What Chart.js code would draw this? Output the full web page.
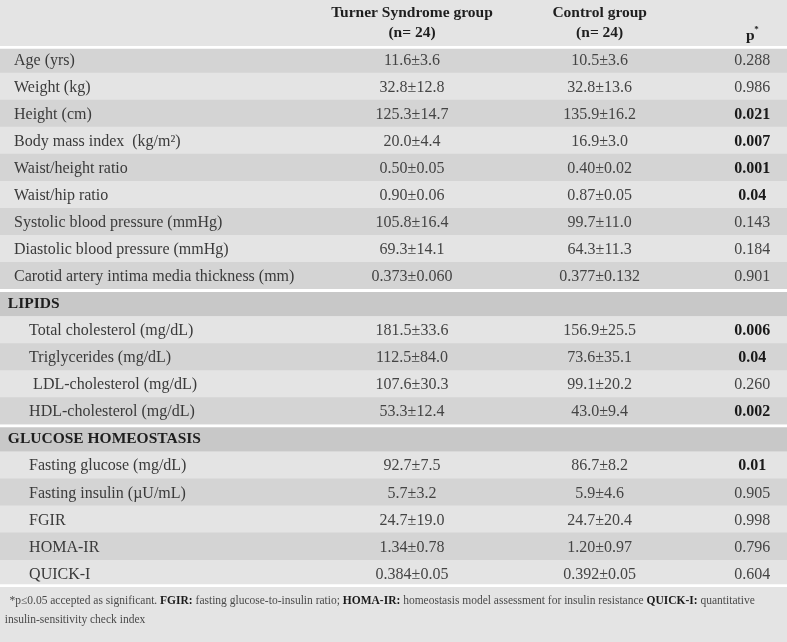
<!DOCTYPE html>
<html>
<head>
<meta charset="utf-8">
<script src="https://cdn.jsdelivr.net/npm/chart.js@4.4.1/dist/chart.umd.min.js"></script>
<style>
  html, body { margin: 0; padding: 0; background: #e5e5e5; }
  #wrap { width: 787px; height: 642px; position: relative; }
</style>
</head>
<body>
<div id="wrap"><canvas id="c" width="787" height="642"></canvas></div>
<script>
// ---------------- DATA ----------------
const rowLabels = [
  'Age (yrs)', 'Weight (kg)', 'Height (cm)', 'Body mass index  (kg/m²)',
  'Waist/height ratio', 'Waist/hip ratio', 'Systolic blood pressure (mmHg)',
  'Diastolic blood pressure (mmHg)', 'Carotid artery intima media thickness (mm)',
  'LIPIDS',
  'Total cholesterol (mg/dL)', 'Triglycerides (mg/dL)', ' LDL-cholesterol (mg/dL)', 'HDL-cholesterol (mg/dL)',
  'GLUCOSE HOMEOSTASIS',
  'Fasting glucose (mg/dL)', 'Fasting insulin (µU/mL)', 'FGIR', 'HOMA-IR', 'QUICK-I'
];
const rowKinds = [
  'row','row','row','row','row','row','row','row','row',
  'section',
  'sub','sub','sub','sub',
  'section',
  'sub','sub','sub','sub','sub'
];
const turnerValues = [
  '11.6±3.6','32.8±12.8','125.3±14.7','20.0±4.4','0.50±0.05','0.90±0.06','105.8±16.4',
  '69.3±14.1','0.373±0.060',
  '',
  '181.5±33.6','112.5±84.0','107.6±30.3','53.3±12.4',
  '',
  '92.7±7.5','5.7±3.2','24.7±19.0','1.34±0.78','0.384±0.05'
];
const controlValues = [
  '10.5±3.6','32.8±13.6','135.9±16.2','16.9±3.0','0.40±0.02','0.87±0.05','99.7±11.0',
  '64.3±11.3','0.377±0.132',
  '',
  '156.9±25.5','73.6±35.1','99.1±20.2','43.0±9.4',
  '',
  '86.7±8.2','5.9±4.6','24.7±20.4','1.20±0.97','0.392±0.05'
];
const pValues = [
  '0.288','0.986','0.021','0.007','0.001','0.04','0.143','0.184','0.901',
  '',
  '0.006','0.04','0.260','0.002',
  '',
  '0.01','0.905','0.998','0.796','0.604'
];
const pSignificant = [
  false,false,true,true,true,true,false,false,false,
  false,
  true,true,false,true,
  false,
  true,false,false,false,false
];
const columnTitles = ['Turner Syndrome group', 'Control group', 'p'];
const columnSubtitles = ['(n= 24)', '(n= 24)', ''];
const footnoteLine1 = [
  ['*p≤0.05 accepted as significant. ', false],
  ['FGIR:', true], [' fasting glucose-to-insulin ratio; ', false],
  ['HOMA-IR:', true], [' homeostasis model assessment for insulin resistance ', false],
  ['QUICK-I:', true], [' quantitative', false]
];
const footnoteLine2 = [['insulin-sensitivity check index', false]];

// ---------------- LAYOUT / STYLE ----------------
const FONT = '"Liberation Serif", "DejaVu Serif", serif';
const COL = { label: 1.78, labelSub: 3.7, section: 1.0, turner: 52.35, control: 76.2, p: 95.6 };
const C_LIGHT = '#e4e4e4', C_DARK = '#d4d4d4', C_SECTION = '#c8c8c8';

function rowColor(i) {
  if (rowKinds[i] === 'section') return C_SECTION;
  let k = 0;
  for (let j = i; j >= 0 && rowKinds[j] !== 'section'; j--) k++;
  const first = (i < 9);
  if (first) return (k % 2 === 1) ? C_DARK : C_LIGHT;
  return (k % 2 === 1) ? C_LIGHT : C_DARK;
}
function borderFor(i) {
  const top = (i === 0 || rowKinds[i] === 'section') ? 3 : 0;
  const bottom = (i === rowLabels.length - 1) ? 3 : 0;
  return { top: top, bottom: bottom, left: 0, right: 0 };
}

const bgPlugin = {
  id: 'bg',
  beforeDraw(chart) {
    const c = chart.ctx;
    c.save();
    c.fillStyle = C_LIGHT;
    c.fillRect(0, 0, chart.width, chart.height);
    c.restore();
  }
};

function drawSegments(c, segs, x, y, size, color) {
  let cx = x;
  segs.forEach(([t, b]) => {
    c.font = (b ? 'bold ' : '') + size + 'px ' + FONT;
    c.fillStyle = b ? '#1a1a1a' : color;
    c.fillText(t, cx, y);
    cx += c.measureText(t).width;
  });
}

const textPlugin = {
  id: 'tableText',
  afterDatasetsDraw(chart) {
    const c = chart.ctx;
    const xs = chart.scales.x, ys = chart.scales.y;
    const area = chart.chartArea;
    c.save();
    c.textBaseline = 'middle';

    // header
    c.font = 'bold 15.5px ' + FONT;
    c.fillStyle = '#1e1e1e';
    c.textAlign = 'center';
    const hx = [xs.getPixelForValue(COL.turner), xs.getPixelForValue(COL.control), xs.getPixelForValue(COL.p)];
    c.fillText(columnTitles[0], hx[0], area.top - 33);
    c.fillText(columnSubtitles[0], hx[0], area.top - 13);
    c.fillText(columnTitles[1], hx[1], area.top - 33);
    c.fillText(columnSubtitles[1], hx[1], area.top - 13);
    c.fillText(columnTitles[2], hx[2] - 2, area.top - 10);
    c.font = 'bold 9px ' + FONT;
    c.textAlign = 'left';
    c.fillText('*', hx[2] + 2, area.top - 16);

    // rows
    rowLabels.forEach((lab, i) => {
      const y = ys.getPixelForValue(i) + 1;
      const kind = rowKinds[i];
      c.textAlign = 'left';
      if (kind === 'section') {
        c.font = 'bold 15.5px ' + FONT;
        c.fillStyle = '#1e1e1e';
        c.fillText(lab, xs.getPixelForValue(COL.section), y);
        return;
      }
      c.font = '16px ' + FONT;
      c.fillStyle = '#3a3a3a';
      c.fillText(lab, xs.getPixelForValue(kind === 'sub' ? COL.labelSub : COL.label), y);
      c.textAlign = 'center';
      c.fillStyle = '#444444';
      c.fillText(turnerValues[i], xs.getPixelForValue(COL.turner), y);
      c.fillText(controlValues[i], xs.getPixelForValue(COL.control), y);
      if (pSignificant[i]) { c.font = 'bold 16px ' + FONT; c.fillStyle = '#1a1a1a'; }
      c.fillText(pValues[i], xs.getPixelForValue(COL.p), y);
    });

    // footnote
    c.textAlign = 'left';
    drawSegments(c, footnoteLine1, xs.getPixelForValue(1.2), area.bottom + 14, 11.5, '#4a4a4a');
    drawSegments(c, footnoteLine2, xs.getPixelForValue(0.6), area.bottom + 33, 11.5, '#4a4a4a');
    c.restore();
  }
};

new Chart(document.getElementById('c'), {
  type: 'bar',
  data: {
    labels: rowLabels,
    datasets: [{
      data: rowLabels.map(() => [0, 100]),
      backgroundColor: rowLabels.map((_, i) => rowColor(i)),
      borderColor: '#ffffff',
      borderWidth: (ctx) => borderFor(ctx.dataIndex),
      borderSkipped: false,
      barPercentage: 1.0,
      categoryPercentage: 1.0
    }]
  },
  options: {
    indexAxis: 'y',
    responsive: false,
    animation: false,
    layout: { padding: { top: 46, bottom: 55, left: 0, right: 0 } },
    scales: {
      x: { type: 'linear', min: 0, max: 100, display: false },
      y: { type: 'category', display: false, offset: true }
    },
    plugins: { legend: { display: false }, tooltip: { enabled: false } }
  },
  plugins: [bgPlugin, textPlugin]
});
</script>
</body>
</html>
